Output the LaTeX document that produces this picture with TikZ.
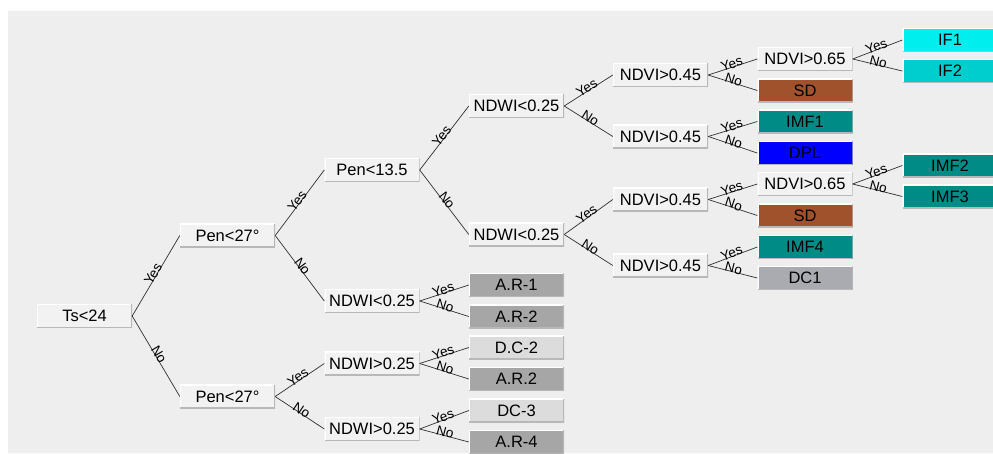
\documentclass[tikz,border=0pt]{standalone}
\usepackage{fontspec}
\setmainfont{Liberation Sans}
\definecolor{panel}{HTML}{EEEEEE}
\definecolor{boxfill}{HTML}{F2F2F2}
\definecolor{shade}{HTML}{B8B8B8}
\definecolor{wire}{HTML}{303030}
\definecolor{cyanA}{HTML}{00EEEE}
\definecolor{cyanB}{HTML}{00CDCD}
\definecolor{sienna}{HTML}{A0522D}
\definecolor{teal}{HTML}{008B87}
\definecolor{pureblue}{HTML}{0000FF}
\definecolor{slate}{HTML}{A9ABB0}
\definecolor{darkgrey}{HTML}{A6A6A6}
\definecolor{lightgrey}{HTML}{DCDCDC}
\newcommand{\nodefont}{\fontsize{16.5}{18}\selectfont}
\newcommand{\labfont}{\fontsize{13.5}{14}\selectfont}
\tikzset{
  box/.style={minimum width=95pt, minimum height=23.5pt, inner sep=0pt,
    fill=boxfill, font=\nodefont, text=black,
    path picture={
      \draw[fill=none, draw=white, line width=2pt]
        (path picture bounding box.south west) -- (path picture bounding box.north west)
        -- (path picture bounding box.north east);
      \draw[fill=none, draw=shade, line width=2pt]
        (path picture bounding box.south west) -- (path picture bounding box.south east)
        -- (path picture bounding box.north east);
    }},
  leaf/.style={box, fill=#1},
  conn/.style={draw=wire, line width=0.7pt},
  lab/.style={sloped, above, inner sep=0.3pt, font=\labfont, yshift=-2pt},
}
\begin{document}
\begin{tikzpicture}[x=1pt, y=-1pt]
\useasboundingbox (0,0) rectangle (993,453);
\fill[panel] (8,11) rectangle (993,453);

% decision nodes
\node[box] (ts) at (84.5,316) {Ts<24};
\node[box] (p1) at (227.5,235.5) {Pen<27°};
\node[box] (p2) at (227.5,396.5) {Pen<27°};
\node[box] (p3) at (372,170) {Pen<13.5};
\node[box] (w1) at (372,301) {NDWI<0.25};
\node[box] (w2) at (372,363.5) {NDWI>0.25};
\node[box] (w3) at (372,429) {NDWI>0.25};
\node[box] (w4) at (516.5,106) {NDWI<0.25};
\node[box] (w5) at (516.5,234.5) {NDWI<0.25};
\node[box] (v1) at (660.5,75) {NDVI>0.45};
\node[box] (v2) at (660.5,136.5) {NDVI>0.45};
\node[box] (v3) at (660.5,199.5) {NDVI>0.45};
\node[box] (v4) at (660.5,265.5) {NDVI>0.45};
\node[box] (v5) at (805,59) {NDVI>0.65};
\node[box] (v6) at (805,184) {NDVI>0.65};

% leaves
\node[leaf=darkgrey] (ar1) at (516.5,285) {A.R-1};
\node[leaf=darkgrey] (ar2) at (516.5,316.5) {A.R-2};
\node[leaf=lightgrey] (dc2) at (516.5,347.5) {D.C-2};
\node[leaf=darkgrey] (ar2b) at (516.5,379) {A.R.2};
\node[leaf=lightgrey] (dc3) at (516.5,410.5) {DC-3};
\node[leaf=darkgrey] (ar4) at (516.5,442) {A.R-4};
\node[leaf=sienna] (sd1) at (805,90.5) {SD};
\node[leaf=teal] (imf1) at (805,121.5) {IMF1};
\node[leaf=pureblue] (dpl) at (805,153) {DPL};
\node[leaf=sienna] (sd2) at (805,215.5) {SD};
\node[leaf=teal] (imf4) at (805,247) {IMF4};
\node[leaf=slate] (dc1) at (805,278) {DC1};
\node[leaf=cyanA] (if1) at (950,40) {IF1};
\node[leaf=cyanB] (if2) at (950,71) {IF2};
\node[leaf=teal] (imf2) at (950,165.5) {IMF2};
\node[leaf=teal] (imf3) at (950,196.5) {IMF3};

% branches
\foreach \a/\b/\t in {ts/p1/Yes, ts/p2/No, p1/p3/Yes, p1/w1/No, p2/w2/Yes, p2/w3/No,
  p3/w4/Yes, p3/w5/No, w1/ar1/Yes, w1/ar2/No, w2/dc2/Yes, w2/ar2b/No,
  w3/dc3/Yes, w3/ar4/No, w4/v1/Yes, w4/v2/No, w5/v3/Yes, w5/v4/No,
  v1/v5/Yes, v1/sd1/No, v2/imf1/Yes, v2/dpl/No, v3/v6/Yes, v3/sd2/No,
  v4/imf4/Yes, v4/dc1/No, v5/if1/Yes, v5/if2/No, v6/imf2/Yes, v6/imf3/No}
  \draw[conn] (\a.east) -- node[lab] {\t} (\b.west);
\end{tikzpicture}
\end{document}
